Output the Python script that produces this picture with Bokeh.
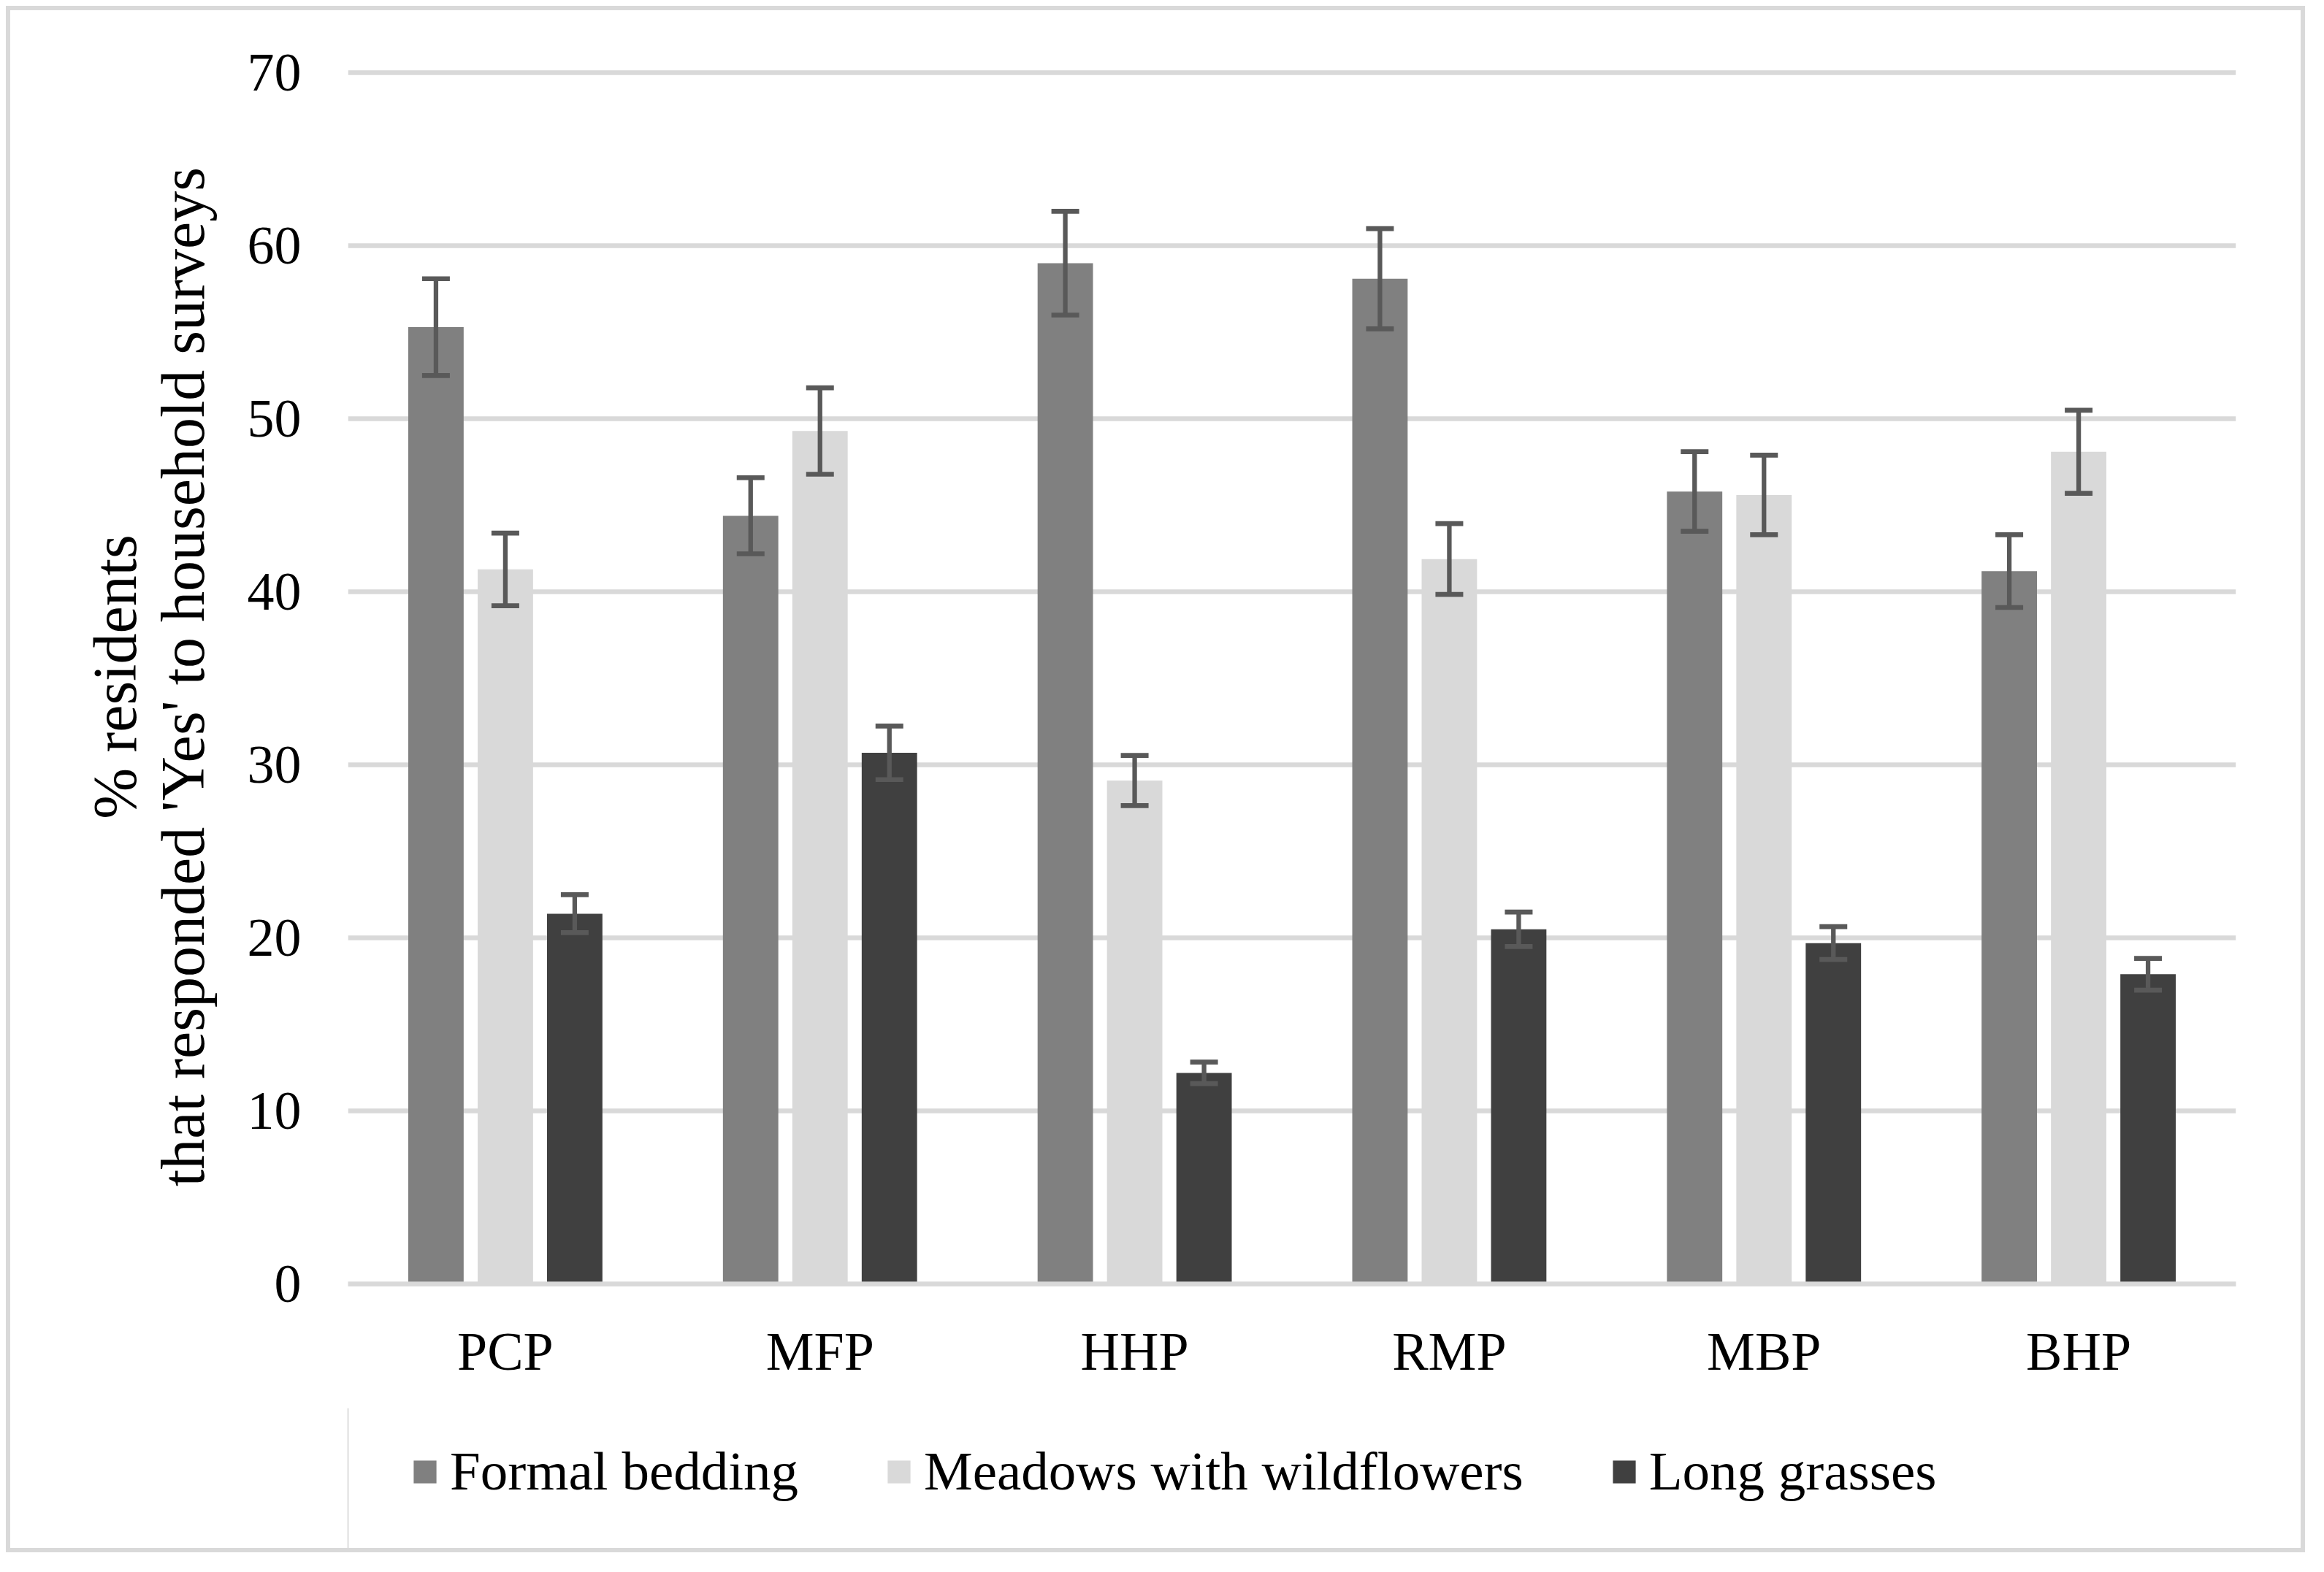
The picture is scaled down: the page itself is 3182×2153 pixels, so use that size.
from bokeh.plotting import figure
from bokeh.layouts import column
from bokeh.models import ColumnDataSource, Range1d, Legend, LegendItem, FactorRange, FixedTicker
from bokeh.transform import dodge
from bokeh.embed import file_html
from bokeh.resources import INLINE

categories = ["PCP", "MFP", "HHP", "RMP", "MBP", "BHP"]
formal = [55.3, 44.4, 59.0, 58.1, 45.8, 41.2]
formal_err = [2.8, 2.2, 3.0, 2.9, 2.3, 2.1]
meadows = [41.3, 49.3, 29.1, 41.9, 45.6, 48.1]
meadows_err = [2.1, 2.5, 1.45, 2.05, 2.3, 2.4]
long_grass = [21.4, 30.7, 12.2, 20.5, 19.7, 17.9]
long_err = [1.1, 1.55, 0.62, 1.0, 0.95, 0.92]
series_names = ["Formal bedding", "Meadows with wildflowers", "Long grasses"]
y_ticks = [0, 10, 20, 30, 40, 50, 60, 70]
y_title = "% residents\nthat responded 'Yes' to household surveys"

colors = ["#808080", "#D9D9D9", "#404040"]
offsets = [-0.2205, 0.0, 0.2205]
err_color = "#595959"
FONT = "Liberation Serif"

W = 3136
H1 = 1914
H2 = 192

p = figure(x_range=FactorRange(factors=categories), y_range=Range1d(0, 70.18),
           width=W, height=H1, output_backend="svg", toolbar_location=None,
           min_border_left=462, min_border_right=89, min_border_top=81,
           min_border_bottom=H1 - 1744)
p.outline_line_color = None
p.background_fill_color = "white"
p.border_fill_color = "white"

for vals, errs, col, off in zip([formal, meadows, long_grass],
                                [formal_err, meadows_err, long_err], colors, offsets):
    src = ColumnDataSource(dict(cat=categories, val=vals,
                                lo=[v - e for v, e in zip(vals, errs)],
                                hi=[v + e for v, e in zip(vals, errs)]))
    xd = dodge("cat", off, range=p.x_range)
    p.vbar(x=xd, top="val", bottom=0, width=0.176, source=src,
           fill_color=col, line_color=None)
    p.segment(x0=xd, y0="lo", x1=xd, y1="hi", source=src,
              line_color=err_color, line_width=6.3)
    for key in ("lo", "hi"):
        p.rect(x=xd, y=key, width=38, height=6.7, width_units="screen",
               height_units="screen", source=src, fill_color=err_color, line_color=None)

p.xgrid.grid_line_color = None
p.ygrid.grid_line_color = "#D9D9D9"
p.ygrid.grid_line_width = 6.7
p.ygrid.ticker = FixedTicker(ticks=y_ticks)

xa = p.xaxis[0]
xa.axis_line_color = "#D9D9D9"
xa.axis_line_width = 6.7
xa.major_tick_line_color = None
xa.minor_tick_line_color = None
xa.major_label_text_font = FONT
xa.major_label_text_font_size = "74px"
xa.major_label_text_color = "black"
xa.major_label_standoff = 45

ya = p.yaxis[0]
ya.ticker = FixedTicker(ticks=y_ticks)
ya.axis_line_color = None
ya.major_tick_line_color = None
ya.minor_tick_line_color = None
ya.major_label_text_font = FONT
ya.major_label_text_font_size = "74px"
ya.major_label_text_color = "black"
ya.major_label_standoff = 58
ya.axis_label = y_title
ya.axis_label_text_font = FONT
ya.axis_label_text_font_size = "84px"
ya.axis_label_text_font_style = "normal"
ya.axis_label_text_color = "black"
ya.axis_label_text_line_height = 1.0
ya.axis_label_standoff = 39

# legend strip below the chart (its frame is aligned with the chart's frame)
q = figure(x_range=Range1d(0, 1), y_range=Range1d(0, 1), width=W, height=H2,
           output_backend="svg", toolbar_location=None, x_axis_type=None, y_axis_type=None,
           min_border=0)
q.outline_line_color = None
q.grid.visible = False
q.border_fill_color = None
q.background_fill_color = None
legend_renderers = [q.vbar(x=[-5], top=[1], width=0.1, fill_color=c, line_color=None)
                    for c in colors]
legend = Legend(items=[LegendItem(label=n, renderers=[r]) for n, r in zip(series_names, legend_renderers)],
                orientation="horizontal", location=(86, 62),
                glyph_width=39, glyph_height=39, label_standoff=15, spacing=118,
                padding=0, margin=0, border_line_color=None, background_fill_alpha=0,
                label_text_font=FONT, label_text_font_size="75px", label_text_color="black")
q.add_layout(legend)

layout = column(p, q, spacing=0)
layout.styles = {"position": "relative", "left": "14px", "top": "14px",
                 "outline": "6px solid #D9D9D9", "outline-offset": "0px"}

open("out.html", "w").write(file_html(layout, INLINE))
